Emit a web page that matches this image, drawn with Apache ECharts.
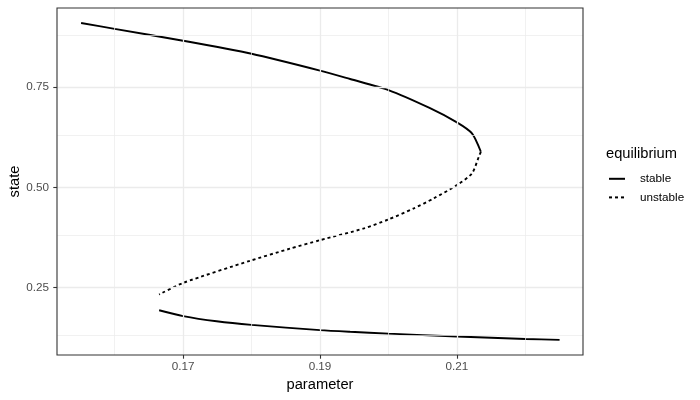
<!DOCTYPE html>
<html>
<head>
<meta charset="utf-8">
<script src="https://cdn.jsdelivr.net/npm/echarts@6/dist/echarts.min.js"></script>
<style>html,body{margin:0;padding:0;background:#fff}#c{width:700px;height:400px}</style>
</head>
<body>
<div id="c"></div>
<script>
// Upper stable branch
const upperParam = [0.1551, 0.1600, 0.1700, 0.1800, 0.1900, 0.1944, 0.2000, 0.2060, 0.2100, 0.2122, 0.2135];
const upperState = [0.9097, 0.8950, 0.8655, 0.8330, 0.7910, 0.7700, 0.7425, 0.6980, 0.6620, 0.6345, 0.5886];
// Unstable branch
const unstableParam = [0.2135, 0.2132, 0.2122, 0.2100, 0.2066, 0.2037, 0.2000, 0.1964, 0.1900, 0.1856, 0.1798, 0.1700, 0.1665];
const unstableState = [0.5886, 0.5761, 0.5347, 0.5055, 0.4723, 0.4474, 0.4199, 0.3975, 0.3682, 0.3470, 0.3170, 0.2617, 0.2328];
// Lower stable branch
const lowerParam = [0.1665, 0.1700, 0.1749, 0.1800, 0.1900, 0.1944, 0.2000, 0.2100, 0.2200, 0.2250];
const lowerState = [0.1936, 0.1790, 0.1660, 0.1570, 0.1440, 0.1398, 0.1352, 0.1280, 0.1220, 0.1196];

const xTicks = [0.17, 0.19, 0.21];
const xMinor = [0.16, 0.18, 0.20, 0.22];
const yTicks = [0.25, 0.50, 0.75];
const yMinor = [0.125, 0.375, 0.625, 0.875];
const seriesNames = ['stable', 'unstable'];

const zip = (a, b) => a.map((v, i) => [v, b[i]]);

const gridLines = [];
xTicks.forEach(v => gridLines.push({xAxis: v, lineStyle: {color: '#EBEBEB', width: 1.3, type: 'solid'}}));
xMinor.forEach(v => gridLines.push({xAxis: v, lineStyle: {color: '#EBEBEB', width: 0.7, type: 'solid'}}));
yTicks.forEach(v => gridLines.push({yAxis: v, lineStyle: {color: '#EBEBEB', width: 1.3, type: 'solid'}}));
yMinor.forEach(v => gridLines.push({yAxis: v, lineStyle: {color: '#EBEBEB', width: 0.7, type: 'solid'}}));

const FONT = 'Liberation Sans, Arial, sans-serif';
const chart = echarts.init(document.getElementById('c'), null, {renderer: 'canvas'});
chart.setOption({
  animation: false,
  backgroundColor: '#ffffff',
  title: {
    text: 'equilibrium', left: 606, top: 146, padding: 0,
    textStyle: {fontFamily: FONT, fontSize: 14.7, fontWeight: 'normal', color: '#000'}
  },
  legend: {
    data: seriesNames, orient: 'vertical', left: 608, top: 172, padding: 0,
    itemWidth: 16, itemHeight: 17, itemGap: 5,
    itemStyle: {color: 'rgba(0,0,0,0)', borderColor: 'rgba(0,0,0,0)', borderWidth: 0},
    formatter: n => '{t|' + n + '}',
    textStyle: {fontFamily: FONT, fontSize: 11.7, color: '#000',
      rich: {t: {fontFamily: FONT, fontSize: 11.7, color: '#000', padding: [0, 0, 0, 10]}}}
  },
  grid: {left: 57, top: 8, width: 526, height: 347, outerBoundsMode: 'none', containLabel: false,
    show: true, borderColor: '#333333', borderWidth: 1.1, backgroundColor: 'transparent', z: 10},
  xAxis: {
    type: 'value', min: 0.15158, max: 0.22842,
    name: 'parameter', nameLocation: 'middle', nameGap: 22, nameMoveOverlap: false,
    nameTextStyle: {fontFamily: FONT, fontSize: 14.7, color: '#000'},
    axisLine: {show: false},
    splitLine: {show: false},
    axisTick: {show: true, length: 3.7, inside: false, customValues: xTicks, lineStyle: {color: '#333333', width: 1.1}},
    axisLabel: {customValues: xTicks, margin: 6, fontFamily: FONT, fontSize: 11.7, color: '#4D4D4D', formatter: v => v.toFixed(2)}
  },
  yAxis: {
    type: 'value', min: 0.082, max: 0.947,
    name: 'state', nameLocation: 'middle', nameGap: 35, nameMoveOverlap: false,
    nameTextStyle: {fontFamily: FONT, fontSize: 14.7, color: '#000'},
    axisLine: {show: false},
    splitLine: {show: false},
    axisTick: {show: true, length: 3.7, inside: false, customValues: yTicks, lineStyle: {color: '#333333', width: 1.1}},
    axisLabel: {customValues: yTicks, margin: 8, fontFamily: FONT, fontSize: 11.7, color: '#4D4D4D', formatter: v => v.toFixed(2)}
  },
  series: [
    {
      name: '_grid', type: 'line', data: [], z: 0, silent: true, symbol: 'none',
      markLine: {silent: true, symbol: ['none', 'none'], label: {show: false}, animation: false, data: gridLines}
    },
    {name: 'stable', type: 'line', data: zip(upperParam, upperState), symbol: 'none', z: 3, smooth: 0.25,
      lineStyle: {color: '#000', width: 1.9, type: 'solid'}, itemStyle: {color: '#000'}},
    {name: 'unstable', type: 'line', data: zip(unstableParam, unstableState), symbol: 'none', z: 3, smooth: 0.25,
      lineStyle: {color: '#000', width: 1.9, type: [3, 3]}, itemStyle: {color: '#000'}},
    {name: 'stable', type: 'line', data: zip(lowerParam, lowerState), symbol: 'none', z: 3, smooth: 0.25,
      lineStyle: {color: '#000', width: 1.9, type: 'solid'}, itemStyle: {color: '#000'}}
  ]
});
</script>
</body>
</html>
